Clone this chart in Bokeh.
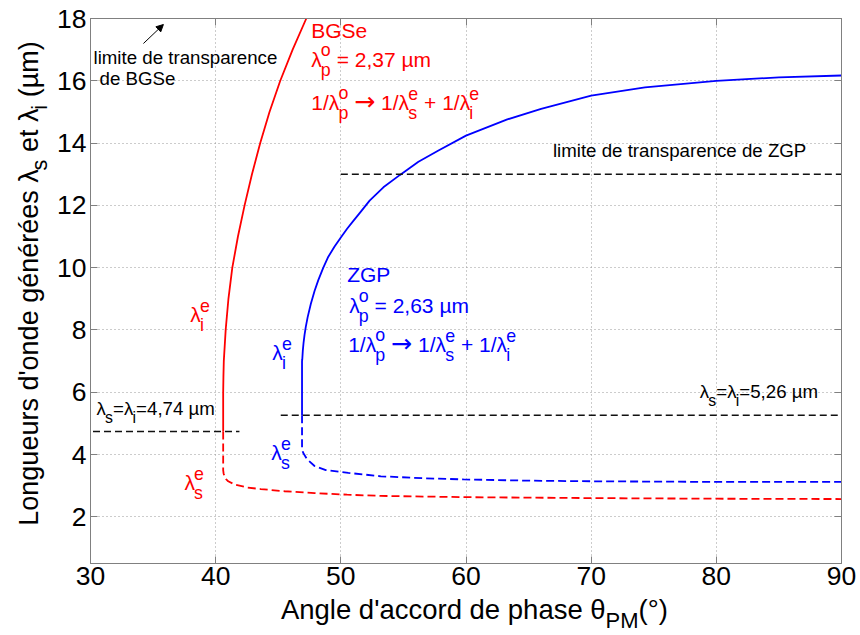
import math
from bokeh.plotting import figure
from bokeh.layouts import row, column
from bokeh.models import Label, LinearAxis, Arrow, NormalHead, FixedTicker, Range1d
from bokeh.embed import file_html
from bokeh.resources import INLINE

# ---------------- data ----------------
x_ticks = [30, 40, 50, 60, 70, 80, 90]
y_ticks = [2, 4, 6, 8, 10, 12, 14, 16, 18]

# BGSe, idler (solid) and signal (dashed)
bgse_idler_angle = [40.6, 40.6, 40.62, 40.65, 40.8, 41.02, 41.33, 41.78, 42.31, 42.9, 43.56, 44.3, 45.16, 46.15, 47.24]
bgse_idler = [4.74, 6.0, 6.5, 7.0, 8.0, 9.0, 10.0, 11.0, 12.0, 13.0, 14.0, 15.0, 16.0, 17.0, 18.0]
bgse_signal_angle = [40.6, 40.6, 40.63, 40.7, 40.85, 41.0, 41.5, 42.5, 43.6, 45.5, 47.9, 50.5, 53.2, 60.0, 70.0, 80.0, 90.0]
bgse_signal = [4.74, 3.5, 3.4, 3.3, 3.2, 3.14, 3.04, 2.94, 2.89, 2.82, 2.76, 2.71, 2.67, 2.63, 2.60, 2.58, 2.57]

# ZGP, idler (solid) and signal (dashed)
zgp_idler_angle = [46.9, 46.9, 46.92, 46.96, 47.02, 47.1, 47.2, 47.35, 47.6, 47.9, 48.2, 48.6, 49.0, 49.5, 50.0,
                   50.5, 51.0, 51.6, 52.3, 53.4, 54.7, 56.2, 57.8, 60.0, 63.3, 66.0, 70.0, 74.3, 80.0, 85.0, 90.0]
zgp_idler = [5.26, 7.0, 7.06, 7.32, 7.58, 7.84, 8.1, 8.41, 8.83, 9.25, 9.6, 10.0, 10.35, 10.68, 10.97,
             11.25, 11.5, 11.8, 12.15, 12.58, 12.97, 13.4, 13.76, 14.24, 14.76, 15.1, 15.52, 15.79, 16.0, 16.11, 16.17]
zgp_signal_angle = [46.9, 46.9, 46.93, 47.0, 47.3, 47.9, 48.8, 50.6, 53.2, 56.5, 59.8, 65.0, 70.0, 80.0, 90.0]
zgp_signal = [5.26, 4.22, 4.13, 4.05, 3.85, 3.63, 3.5, 3.41, 3.3, 3.24, 3.2, 3.16, 3.14, 3.12, 3.12]

# reference horizontal lines
deg_bgse_angle = [30.2, 41.9]
deg_bgse = [4.74, 4.74]
deg_zgp_angle = [45.2, 90.0]
deg_zgp = [5.26, 5.26]
zgp_limit_angle = [50.0, 90.0]
zgp_limit = [13.0, 13.0]

# ---------------- layout ----------------
FONT = "Liberation Sans"
PAGE_W, PAGE_H = 858, 635
YLAB_W = 54
MAIN_H = 595
FL, FR, FT, FB = 89, 841, 18, 563   # frame in page pixels
XMIN, XMAX, YMIN, YMAX = 30, 90, 0.5, 18
BASEFIX = 0.39   # renderer puts "alphabetic" text this many em too low


def X(px):
    return XMIN + (px - FL) * (XMAX - XMIN) / (FR - FL)


def Y(py):
    return YMAX - (py - FT) * (YMAX - YMIN) / (FB - FT)


W = {' ': 278, '\u00a0': 278, "'": 191, '(': 333, ')': 333, '+': 584, ',': 278, '-': 333, '.': 278, '/': 278,
     '=': 584, '°': 400, 'λ': 460, 'θ': 556, 'µ': 577,
     'A': 667, 'B': 667, 'G': 778, 'L': 556, 'M': 833, 'P': 667, 'S': 667, 'Z': 611,
     'a': 556, 'c': 500, 'd': 556, 'e': 556, 'é': 556, 'g': 556, 'h': 556, 'i': 222, 'l': 222,
     'm': 833, 'n': 556, 'o': 556, 'p': 556, 'r': 333, 's': 500, 't': 278, 'u': 556}
for _d in "0123456789":
    W[_d] = 556


def tw(s, fs):
    return sum(W.get(c, 556) for c in s) * fs / 1000.0


main = figure(width=PAGE_W - YLAB_W, height=MAIN_H, x_range=Range1d(XMIN, XMAX), y_range=Range1d(YMIN, YMAX),
              output_backend="svg", toolbar_location=None,
              min_border_left=FL - YLAB_W, min_border_right=PAGE_W - FR,
              min_border_top=FT, min_border_bottom=MAIN_H - FB)
main.background_fill_color = "white"
main.border_fill_color = "white"
main.outline_line_color = "#808080"

main.xaxis.ticker = FixedTicker(ticks=x_ticks)
main.yaxis.ticker = FixedTicker(ticks=y_ticks)
for ax in (main.xaxis[0], main.yaxis[0]):
    ax.axis_line_color = "#808080"
    ax.major_tick_line_color = "#808080"
    ax.major_tick_in = 7
    ax.major_tick_out = 0
    ax.minor_tick_line_color = None
    ax.major_label_text_font = FONT
    ax.major_label_text_font_size = "26.5px"
    ax.major_label_text_color = "black"
main.xaxis.major_label_standoff = 3
main.yaxis.major_label_standoff = 4

for loc, tks in (("above", x_ticks), ("right", y_ticks)):
    ax = LinearAxis(ticker=FixedTicker(ticks=tks), major_label_overrides={t: "" for t in tks},
                    major_label_text_font_size="10px", major_label_standoff=0,
                    axis_line_color="#808080", major_tick_line_color="#808080",
                    major_tick_in=7, major_tick_out=0, minor_tick_line_color=None)
    main.add_layout(ax, loc)

main.grid.grid_line_color = "#999999"
main.grid.grid_line_dash = "1 3"
main.grid.grid_line_width = 1

# ---------------- curves ----------------
RED, BLUE = "#ff0000", "#0000ff"
main.line(bgse_idler_angle, bgse_idler, line_color=RED, line_width=1.8)
main.line(bgse_signal_angle, bgse_signal, line_color=RED, line_width=1.8, line_dash="8 4")
main.line(zgp_idler_angle, zgp_idler, line_color=BLUE, line_width=1.8)
main.line(zgp_signal_angle, zgp_signal, line_color=BLUE, line_width=1.8, line_dash="8 4")
main.line(deg_bgse_angle, deg_bgse, line_color="#111111", line_width=1.5, line_dash="7 4")
main.line(deg_zgp_angle, deg_zgp, line_color="#111111", line_width=1.5, line_dash="7 4")
main.line(zgp_limit_angle, zgp_limit, line_color="#111111", line_width=1.5, line_dash="7 4")

main.add_layout(Arrow(end=NormalHead(size=7, fill_color="black", line_color="black"),
                      x_start=X(142), y_start=Y(43), x_end=X(162), y_end=Y(24),
                      line_color="black", line_width=1))


# ---------------- rich text ----------------
def seg_width(seg, fs, sfs):
    kind = seg[0]
    if kind == "n":
        return tw(seg[1], fs)
    if kind == "arrow":
        return 0.838 * fs * 1.2
    return max(tw(seg[1], sfs), tw(seg[2], sfs))


def rich(fig, fx, fy, segs, px, py, fs, color, rotate=False, center=False, small=0.85, up=0.5, down=0.45):
    sfs = fs * small
    total = sum(seg_width(s, fs, sfs) for s in segs)
    adv = -total / 2 if center else 0.0
    ax, ay = fx(px), fy(py)

    def put(txt, along, perp, size, font=FONT):
        if not txt:
            return
        perp = perp + BASEFIX * size
        if rotate:
            xo, yo, ang = -perp, along, math.pi / 2
        else:
            xo, yo, ang = along, perp, 0.0
        fig.add_layout(Label(x=ax, y=ay, x_offset=xo, y_offset=yo, angle=ang, text=txt,
                             text_font=font, text_font_size=f"{size:.1f}px", text_color=color,
                             text_align="left", text_baseline="alphabetic"))

    for seg in segs:
        if seg[0] == "n":
            put(seg[1], adv, 0, fs)
        elif seg[0] == "arrow":
            put("\u2192", adv, -0.04 * fs, fs * 1.2, font="DejaVu Sans")
        else:
            put(seg[1], adv, up * fs, sfs)
            put(seg[2], adv, -down * fs, sfs)
        adv += seg_width(seg, fs, sfs)


NB = "\u00a0"
CF = 21     # coloured annotation size
BF = 18.7   # black annotation size


def mrich(*a, **k):
    rich(main, X, Y, *a, **k)


mrich([("n", "BGSe")], 310, 38, CF, RED)
mrich([("n", "λ"), ("s", "o", "p"), ("n", NB + "= 2,37 µm")], 310, 67, CF, RED)
mrich([("n", "1/λ"), ("s", "o", "p"), ("n", NB), ("arrow",), ("n", NB + "1/λ"), ("s", "e", "s"),
       ("n", NB + "+ 1/λ"), ("s", "e", "i")], 310, 110, CF, RED)

mrich([("n", "ZGP")], 346, 282, CF, BLUE)
mrich([("n", "λ"), ("s", "o", "p"), ("n", NB + "= 2,63 µm")], 348, 313, CF, BLUE)
mrich([("n", "1/λ"), ("s", "o", "p"), ("n", NB), ("arrow",), ("n", NB + "1/λ"), ("s", "e", "s"),
       ("n", NB + "+ 1/λ"), ("s", "e", "i")], 347, 352, CF, BLUE)

mrich([("n", "λ"), ("s", "e", "i")], 189, 322, CF, RED)
mrich([("n", "λ"), ("s", "e", "s")], 183, 490, CF, RED)
mrich([("n", "λ"), ("s", "e", "i")], 271, 360, CF, BLUE)
mrich([("n", "λ"), ("s", "e", "s")], 270, 460, CF, BLUE)

mrich([("n", "limite de transparence")], 92, 64, BF, "black")
mrich([("n", "de BGSe")], 98, 85, BF, "black")
mrich([("n", "limite de transparence de ZGP")], 552, 157, BF, "black")
mrich([("n", "λ"), ("s", "", "s"), ("n", "=λ"), ("s", "", "i"), ("n", "=4,74 µm")], 95, 415, BF, "black")
mrich([("n", "λ"), ("s", "", "s"), ("n", "=λ"), ("s", "", "i"), ("n", "=5,26 µm")], 699, 398, BF, "black")


# ---------------- axis titles (separate text panels) ----------------
def text_panel(w, h):
    f = figure(width=w, height=h, x_range=Range1d(0, w), y_range=Range1d(0, h),
               output_backend="svg", toolbar_location=None,
               x_axis_location=None, y_axis_location=None, min_border=0)
    f.outline_line_color = None
    f.grid.visible = False
    f.background_fill_color = "white"
    f.border_fill_color = "white"
    return f


ylab = text_panel(YLAB_W, PAGE_H)
rich(ylab, lambda px: px, lambda py: PAGE_H - py,
     [("n", "Longueurs d'onde générées λ"), ("s", "", "s"), ("n", NB + "et λ"), ("s", "", "i"), ("n", NB + "(µm)")],
     39, 283, 27, "black", rotate=True, center=True, small=0.8, down=0.33)

xlab = text_panel(PAGE_W - YLAB_W, PAGE_H - MAIN_H)
rich(xlab, lambda px: px - YLAB_W, lambda py: PAGE_H - py,
     [("n", "Angle d'accord de phase θ"), ("s", "", "PM"), ("n", "(°)")],
     465, 620, 27.5, "black", center=True, small=0.8, down=0.33)

layout = row(ylab, column(main, xlab))
open("out.html", "w").write(file_html(layout, INLINE))
